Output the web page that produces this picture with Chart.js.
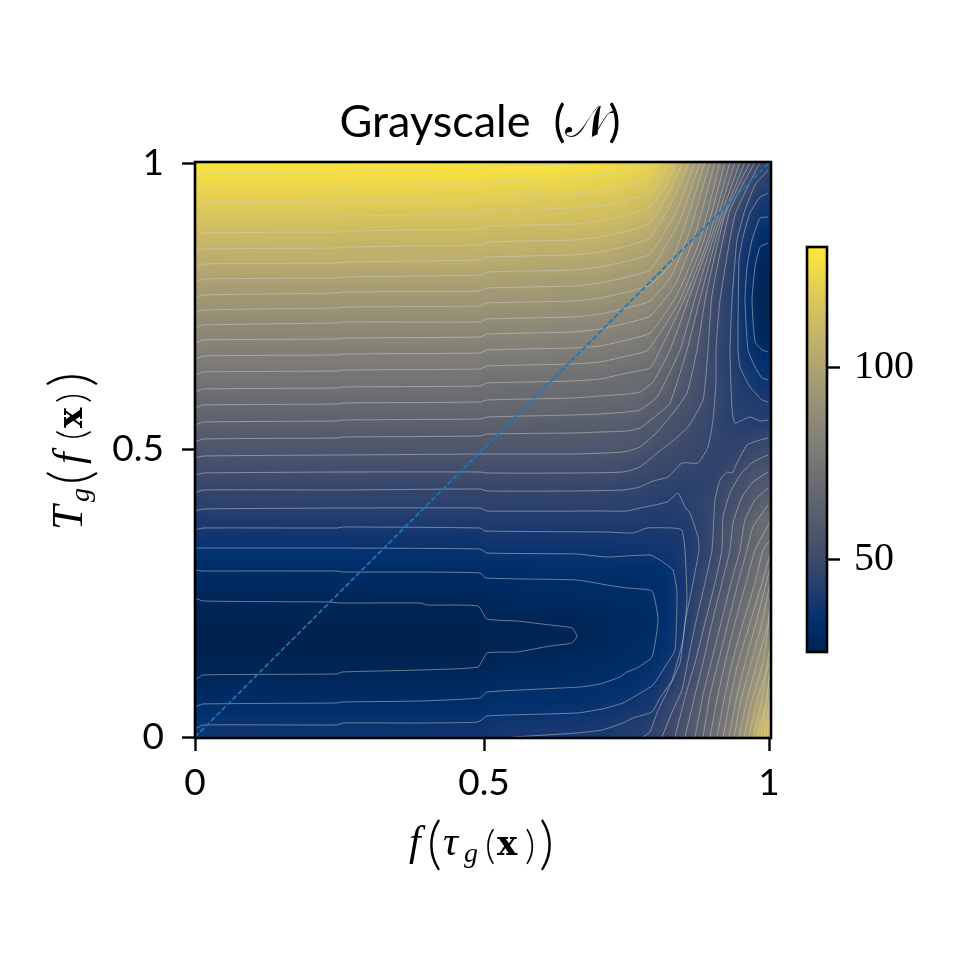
<!DOCTYPE html>
<html>
<head>
<meta charset="utf-8">
<title>Grayscale</title>
<script src="https://cdn.jsdelivr.net/npm/chart.js@4/dist/chart.umd.min.js"></script>
<style>
    html, body { margin: 0; padding: 0; background: #fff; }
    canvas { position: absolute; left: 0; top: 0; }
</style>
</head>
<body>
<canvas id="heat" width="960" height="960"></canvas>
<canvas id="colorbar" width="960" height="960"></canvas>
<script>
// axes are in histogram bins, labelled 0 / 0.5 / 1
const xTickValues = [0, 289, 574];
const yTickValues = [0, 288, 574];
const tickLabels = ['0', '0.5', '1'];
const colorbarTicks = [50, 100];
const colorMin = 26;
const colorMax = 131.5;

const gridColumns = [8, 24, 40, 56, 72, 88, 104, 120, 136, 152, 168, 184, 200, 216, 232, 248, 264, 280,
    296, 312, 328, 344, 360, 376, 392, 408, 424, 440, 456, 472, 488, 504, 520, 536, 552, 568];
const gridRowPositions = [568, 552, 536, 520, 504, 488, 472, 456, 440, 424, 408, 392, 376, 360, 344, 328, 312, 296,
    280, 264, 248, 232, 216, 200, 184, 168, 152, 136, 120, 104, 88, 72, 56, 40, 24, 8];

// values, one row per line, top to bottom
const gridValues = [
    [129,129,129,129,129,129,129,129,129,129,129,129,129,129,129,129,129,129, 128,128,128,128,128,127,127,126,125,124,122,116,106,95,82,69,56,47],
    [125,125,125,125,125,125,125,125,125,125,125,125,125,125,125,125,125,125, 124,124,124,123,123,123,122,122,121,119,117,112,102,91,79,65,52,44],
    [120,120,120,120,120,120,120,120,120,120,120,120,120,120,120,120,120,120, 119,119,119,118,118,118,117,117,116,114,113,106,98,88,76,59,47,40],
    [116,116,116,116,116,116,116,116,116,116,116,116,116,116,116,116,116,116, 115,115,115,115,114,114,114,113,112,111,109,102,95,85,72,52,43,37],
    [112,112,112,112,112,112,112,112,112,112,112,112,112,112,112,112,112,112, 111,111,111,111,110,110,110,109,108,106,104,98,92,82,64,49,40,34],
    [108,108,108,108,108,108,108,108,108,108,108,108,108,108,108,108,108,108, 107,107,107,106,106,106,106,105,103,102,100,95,88,77,58,47,38,31],
    [104,104,104,104,104,104,104,104,104,104,104,104,104,104,104,104,104,104, 103,103,103,102,102,102,101,101,99,98,96,93,84,71,54,46,36,29],
    [99,99,99,99,99,99,99,99,99,99,99,99,99,99,99,99,99,99, 98,98,98,98,97,97,97,96,95,94,92,88,80,65,52,45,36,28],
    [95,95,95,95,95,95,95,95,95,95,95,95,95,95,95,95,95,95, 94,94,94,94,93,93,93,92,91,90,88,84,75,61,51,44,35,28],
    [91,91,91,91,91,91,91,91,91,91,91,91,91,91,91,91,91,91, 90,90,90,90,89,89,89,88,87,86,84,79,68,58,50,44,35,28],
    [87,87,87,87,87,87,87,87,87,87,87,87,87,87,87,87,87,87, 86,86,86,86,85,85,85,84,83,82,80,73,66,57,49,44,36,29],
    [83,83,83,83,83,83,83,83,83,83,83,83,83,83,83,83,83,83, 82,82,82,82,81,81,81,80,79,78,76,70,64,56,48,44,36,30],
    [79,79,79,79,79,79,79,79,79,79,79,79,79,79,79,79,79,79, 78,78,78,78,77,77,77,76,75,74,73,68,60,54,48,43,38,34],
    [75,75,75,75,75,75,75,75,75,75,75,75,75,75,75,75,75,75, 74,74,74,74,73,73,73,72,71,70,69,64,58,54,48,44,40,36],
    [71,71,71,71,71,71,71,71,71,71,71,71,71,71,71,71,71,71, 71,70,70,70,70,70,70,69,69,68,66,62,57,53,48,44,41,39],
    [67,67,67,67,67,67,67,67,67,67,67,67,67,67,67,67,67,67, 67,67,67,67,67,66,66,66,65,65,62,59,55,52,48,44,43,42],
    [63,63,63,63,63,63,63,63,63,63,63,63,63,63,63,63,63,63, 63,63,63,62,62,62,62,62,61,60,59,55,53,50,47,44,43,43],
    [59,59,59,59,59,59,59,59,59,59,59,59,59,59,59,59,59,59, 59,59,59,59,59,58,58,58,58,57,56,53,51,49,47,46,46,48],
    [56,56,56,56,56,56,56,56,56,56,56,56,56,56,56,56,56,56, 56,56,56,56,56,56,56,55,55,54,52,50,49,48,46,46,49,52],
    [52,52,52,52,52,52,52,52,52,52,52,52,52,52,52,52,52,52, 52,52,52,52,52,52,52,52,51,50,49,48,47,46,46,48,53,56],
    [48,48,48,48,48,48,48,48,48,48,48,48,48,48,48,48,48,48, 48,48,48,48,48,48,48,48,47,47,46,45,44,45,47,52,56,59],
    [45,45,45,45,45,45,45,45,45,45,45,45,45,45,45,45,45,45, 45,45,45,45,45,45,45,45,45,45,44,43,44,46,48,52,57,63],
    [41,41,41,41,41,41,41,41,41,41,41,41,41,41,41,41,41,41, 42,42,42,42,42,42,42,42,42,42,41,41,42,45,48,55,61,70],
    [38,38,38,38,38,38,38,38,38,38,38,38,38,38,38,38,38,38, 39,39,39,39,39,39,39,39,39,39,39,39,40,44,49,57,63,71],
    [35,35,35,35,35,35,35,35,35,35,35,35,35,35,35,35,35,35, 36,36,36,36,36,36,36,36,37,37,37,38,40,44,49,56,64,72],
    [32,32,32,32,32,32,32,32,32,32,32,32,32,32,32,32,32,32, 33,33,33,34,34,34,34,34,34,34,34,35,39,45,51,58,66,74],
    [30,30,30,30,30,30,30,30,30,30,30,30,30,30,30,30,30,30, 31,31,31,31,31,31,32,32,32,32,33,34,38,46,52,60,68,76],
    [28,28,28,28,28,28,28,28,28,28,28,28,28,28,28,28,28,28, 29,29,30,30,30,30,31,31,31,31,32,34,39,47,55,63,71,80],
    [27,27,27,27,27,27,27,27,27,27,27,27,27,27,27,27,27,27, 28,28,28,28,28,28,29,29,30,30,31,34,39,48,57,65,73,84],
    [26,26,26,26,26,26,26,26,26,26,26,26,26,26,26,26,26,26, 27,27,27,27,27,27,28,29,30,30,31,35,40,50,59,67,76,86],
    [26,26,26,26,26,26,26,26,26,26,26,26,26,26,26,26,26,26, 27,27,28,28,28,28,29,29,30,31,32,35,41,52,61,69,79,89],
    [27,27,27,27,27,27,27,27,27,27,27,27,27,27,27,27,27,27, 28,29,29,29,29,30,30,31,31,32,33,37,45,54,62,72,81,92],
    [29,29,29,29,29,29,29,29,29,29,29,29,29,29,29,29,29,29, 30,31,31,31,31,31,32,32,33,34,36,39,47,56,65,73,84,96],
    [31,31,31,31,31,31,31,31,31,31,31,31,31,31,31,31,31,31, 32,33,33,33,33,33,34,35,35,36,38,45,51,58,67,76,88,100],
    [34,34,34,34,34,34,34,34,34,34,34,34,34,34,34,34,34,34, 35,35,35,35,36,36,36,37,38,39,40,47,53,60,66,77,89,106],
    [37,37,37,37,37,37,37,37,37,37,37,37,37,37,37,37,37,37, 38,39,39,39,39,39,40,40,41,42,45,49,55,61,70,81,93,112]
];

// contour lines, x,y pairs in bins
const contourLines = [
    [0,561, 8,564, 142,565, 148,566, 285,568, 292,571, 378,573, 405,575],
    [0,546, 8,549, 142,550, 148,551, 285,553, 292,556, 378,558, 405,562, 432,567, 460,575],
    [0,531, 8,534, 142,535, 148,536, 285,538, 292,541, 378,544, 405,546, 432,552, 455,559, 468,575],
    [0,516, 8,519, 142,520, 148,521, 285,523, 292,526, 378,529, 405,531, 432,537, 455,545, 465,557, 475,575],
    [0,501, 8,504, 142,505, 148,506, 285,508, 292,511, 378,513, 405,516, 432,522, 455,530, 470,550, 482,575],
    [0,485, 8,488, 142,489, 148,490, 285,492, 292,495, 378,497, 405,500, 432,506, 455,514, 475,547, 488,575],
    [0,470, 8,473, 142,474, 148,475, 285,477, 292,480, 378,482, 405,485, 432,491, 455,499, 478,537, 494,575],
    [0,455, 8,458, 142,459, 148,460, 285,462, 292,465, 378,467, 405,470, 432,476, 455,483, 482,527, 500,575],
    [0,439, 8,442, 142,444, 148,445, 285,446, 292,449, 378,451, 405,454, 432,460, 455,467, 485,517, 505,575],
    [0,424, 8,427, 142,429, 148,430, 285,431, 292,434, 378,436, 405,439, 432,445, 455,452, 475,472, 490,512, 510,575],
    [0,409, 8,412, 142,414, 148,415, 285,415, 292,418, 378,420, 405,423, 432,429, 455,436, 477,462, 495,507, 515,575],
    [0,393, 8,397, 142,398, 148,399, 285,400, 292,403, 378,405, 405,408, 432,414, 455,421, 480,452, 500,502, 520,575],
    [0,377, 8,381, 142,382, 148,383, 285,384, 292,387, 378,389, 405,391, 432,397, 455,404, 482,442, 505,497, 525,575],
    [0,362, 8,365, 142,366, 148,367, 285,368, 292,371, 378,373, 405,375, 432,381, 453,387, 485,437, 509,497, 530,575],
    [0,345, 8,348, 142,349, 148,350, 285,351, 292,354, 378,356, 405,358, 432,364, 455,369, 465,387, 489,437, 513,497, 535,575],
    [0,329, 8,332, 142,333, 148,334, 285,335, 292,337, 378,339, 405,341, 432,343, 445,345, 458,355, 475,387, 495,442, 517,502, 540,575],
    [0,312, 8,315, 142,316, 148,317, 285,318, 292,320, 378,322, 405,323, 432,325, 445,327, 462,340, 485,387, 501,442, 521,507, 545,575],
    [0,295, 8,298, 142,299, 148,300, 285,301, 292,303, 378,304, 405,305, 432,306, 445,309, 462,322, 475,334, 492,387, 506,442, 525,512, 550,575],
    [0,279, 8,281, 142,282, 148,282, 285,283, 292,283, 378,283, 428,285, 445,290, 462,305, 478,324, 492,344, 502,387, 511,442, 530,522, 555,575],
    [0,262, 8,264, 142,265, 148,265, 285,265, 292,264, 378,264, 428,265, 445,270, 462,284, 475,294, 493,310, 508,337, 513,387, 517,442, 535,527, 560,575],
    [0,244, 8,247, 142,247, 148,247, 285,248, 292,246, 378,246, 428,247, 445,250, 458,256, 473,260, 487,274, 503,274, 513,290, 518,317, 521,354, 521,387, 525,437, 540,522, 565,575],
    [573,299, 565,297, 552,292, 542,274, 537,264, 532,265, 525,257, 520,237, 517,187, 510,154, 502,120, 495,87, 487,47, 478,27, 467,0],
    [0,226, 8,228, 142,229, 148,229, 285,229, 292,226, 405,226, 432,226, 445,229, 472,235, 483,244, 490,230, 495,224, 503,200, 504,187, 498,154, 490,114, 485,74, 473,47, 462,24, 455,5, 448,0],
    [0,207, 8,209, 142,209, 148,210, 285,209, 290,206, 412,205, 438,204, 452,209, 478,209, 487,207, 490,187, 492,137, 488,97, 477,57, 465,39, 457,25, 438,19, 428,14, 407,7, 382,4, 318,0],
    [0,189, 8,189, 142,189, 148,189, 285,188, 292,184, 382,183, 412,180, 455,182, 465,177, 478,167, 482,144, 480,87, 470,70, 458,52, 442,42, 428,34, 407,28, 382,24, 292,21, 283,15, 225,14, 148,14, 142,12, 8,12, 0,8],
    [0,167, 8,166, 142,166, 148,165, 225,165, 285,164, 291,159, 382,157, 412,152, 432,149, 457,146, 463,117, 457,80, 442,69, 432,65, 425,60, 405,53, 385,50, 292,45, 285,39, 225,36, 147,35, 142,34, 8,33, 0,30],
    [0,139, 8,136, 135,135, 145,134, 225,134, 232,132, 283,131, 292,118, 322,116, 355,112, 377,109, 382,101, 377,94, 355,91, 322,85, 292,84, 283,70, 225,67, 147,65, 142,63, 8,62, 0,57],
    [573,282, 558,275, 545,262, 535,244, 528,220, 527,187, 520,154, 510,114, 500,74, 492,47, 485,20, 480,0],
    [573,265, 558,255, 547,240, 538,214, 535,187, 527,154, 517,114, 508,74, 500,42, 490,0],
    [573,249, 560,237, 550,217, 545,187, 536,154, 526,114, 516,74, 508,42, 500,0],
    [573,232, 558,210, 552,187, 543,154, 533,114, 523,74, 515,42, 508,0],
    [575,215, 560,187, 551,154, 540,114, 530,74, 522,37, 515,0],
    [575,197, 568,187, 560,154, 548,114, 537,74, 529,37, 522,0],
    [575,182, 567,154, 555,114, 543,74, 535,37, 528,0],
    [575,169, 561,114, 550,74, 541,37, 534,0],
    [575,154, 567,114, 556,74, 546,37, 539,0],
    [575,139, 573,114, 562,74, 552,37, 544,0],
    [575,124, 568,74, 557,37, 549,0],
    [575,107, 574,74, 562,37, 554,0],
    [575,92, 567,37, 558,0],
    [575,77, 572,37, 562,0],
    [575,64, 570,27, 566,0],
    [575,50, 573,27, 569,0],
    [575,37, 572,0],
    [575,24, 574,0],
    [573,317, 565,316, 555,320, 540,314, 537,327, 535,387, 537,437, 542,497, 550,527, 560,552, 573,567],
    [573,335, 567,337, 555,350, 545,370, 543,387, 544,477, 548,500, 555,524, 565,540, 573,544],
    [573,357, 567,359, 560,370, 553,387, 550,437, 552,470, 557,497, 565,519, 573,520],
    [573,385, 567,387, 560,395, 557,437, 560,470, 565,490, 573,494]
];
const diagonalX = [0, 575];
const diagonalY = [0, 575];

// cividis
const colorStops = [
    [0, '#00224e'], [0.04, '#002a62'], [0.08, '#00316f'], [0.111, '#123570'], [0.222, '#3b496c'],
    [0.333, '#575d6d'], [0.444, '#707173'], [0.556, '#8a8678'], [0.667, '#a59c74'],
    [0.778, '#c3b369'], [0.889, '#e1cc55'], [1, '#fee838']
];

function hexToRgb(hex) {
    return [1, 3, 5].map(i => parseInt(hex.slice(i, i + 2), 16));
}

function colorFor(value) {
    const t = Math.min(1, Math.max(0, (value - colorMin) / (colorMax - colorMin)));
    for (let i = 1; i < colorStops.length; i++) {
        if (t <= colorStops[i][0]) {
            const a = colorStops[i - 1];
            const b = colorStops[i];
            const k = (t - a[0]) / (b[0] - a[0]);
            const ca = hexToRgb(a[1]);
            const cb = hexToRgb(b[1]);
            return 'rgb(' + ca.map((c, n) => Math.round(c + (cb[n] - c) * k)).join(',') + ')';
        }
    }
    return colorStops[colorStops.length - 1][1];
}

function pairs(flat) {
    const points = [];
    for (let i = 0; i < flat.length; i += 2) {
        points.push({ x: flat[i], y: flat[i + 1] });
    }
    return points;
}

const gridPoints = [];
const gridColors = [];
gridValues.forEach((row, r) => {
    row.forEach((value, c) => {
        gridPoints.push({ x: gridColumns[c], y: gridRowPositions[r] });
        gridColors.push(colorFor(value));
    });
});

const mathFont = '"Liberation Serif"';
const bigParen = '300 58px Lato';
const smallParen = '300 40px Lato';
const xLabelPieces = [
    { text: 'f', font: 'italic 42px ' + mathFont, dx: 8, dy: 0 },
    { text: '(', font: bigParen, dx: 26, dy: 8 },
    { text: 'τ', font: 'italic 42px ' + mathFont, dx: 42, dy: 0 },
    { text: 'g', font: 'italic 28px ' + mathFont, dx: 63, dy: 7 },
    { text: '(', font: smallParen, dx: 84, dy: 4 },
    { text: 'x', font: 'bold 34px "DejaVu Serif"', dx: 96, dy: 0 },
    { text: ')', font: smallParen, dx: 124, dy: 4 },
    { text: ')', font: bigParen, dx: 138, dy: 8 }
];
const yLabelPieces = [
    { text: 'T', font: 'italic 44px ' + mathFont, dx: 0, dy: 0 },
    { text: 'g', font: 'italic 28px ' + mathFont, dx: 28, dy: 7 },
    { text: '(', font: bigParen, dx: 45, dy: 8 },
    { text: 'f', font: 'italic 42px ' + mathFont, dx: 66, dy: 0 },
    { text: '(', font: smallParen, dx: 90, dy: 4 },
    { text: 'x', font: 'bold 34px "DejaVu Serif"', dx: 102, dy: 0 },
    { text: ')', font: smallParen, dx: 127, dy: 4 },
    { text: ')', font: bigParen, dx: 143, dy: 8 }
];

function drawPieces(ctx, x, y, rotation, pieces) {
    ctx.save();
    ctx.translate(x, y);
    ctx.rotate(rotation);
    ctx.fillStyle = '#000';
    ctx.textAlign = 'left';
    ctx.textBaseline = 'alphabetic';
    pieces.forEach(p => {
        ctx.font = p.font;
        ctx.fillText(p.text, p.dx, p.dy);
    });
    ctx.restore();
}

// smooths the cells like imshow does, only inside the axes
const smoothCells = {
    id: 'smoothCells',
    afterDatasetDraw(chart, args) {
        if (args.index !== 0) return;
        const a = chart.chartArea;
        const w = a.right - a.left;
        const h = a.bottom - a.top;
        const ctx = chart.ctx;
        ctx.save();
        ctx.beginPath();
        ctx.rect(a.left, a.top, w, h);
        ctx.clip();
        ctx.filter = 'blur(6px)';
        ctx.drawImage(chart.canvas, a.left, a.top, w, h, a.left, a.top, w, h);
        ctx.restore();
    }
};

const frame = {
    id: 'frame',
    afterDatasetsDraw(chart) {
        const a = chart.chartArea;
        const ctx = chart.ctx;
        ctx.save();
        ctx.strokeStyle = '#000';
        ctx.lineWidth = 2.6;
        ctx.strokeRect(a.left, a.top, a.right - a.left, a.bottom - a.top);
        ctx.restore();
    }
};

const axisLabels = {
    id: 'axisLabels',
    afterDraw(chart) {
        drawPieces(chart.ctx, 401, 855, 0, xLabelPieces);
        drawPieces(chart.ctx, 82, 530, -Math.PI / 2, yLabelPieces);
    }
};

const datasets = [{
    label: 'cells',
    data: gridPoints,
    pointStyle: 'rect',
    pointRadius: 12.5,
    pointBorderWidth: 0,
    pointBackgroundColor: gridColors,
    showLine: false,
    order: 3
}];

contourLines.forEach(line => {
    datasets.push({
        data: pairs(line),
        showLine: true,
        pointRadius: 0,
        borderColor: 'rgba(205,205,205,0.5)',
        borderWidth: 1,
        tension: 0.15,
        order: 2
    });
});

datasets.push({
    label: 'diagonal',
    data: diagonalX.map((x, i) => ({ x: x, y: diagonalY[i] })),
    showLine: true,
    pointRadius: 0,
    borderColor: '#1f77b4',
    borderWidth: 1.7,
    borderDash: [5.3, 2.3],
    order: 1
});

const tickFont = { family: 'Lato', size: 37 };

new Chart(document.getElementById('heat').getContext('2d'), {
    type: 'scatter',
    data: { datasets: datasets },
    options: {
        responsive: false,
        animation: false,
        plugins: {
            legend: { display: false },
            tooltip: { enabled: false },
            title: {
                display: true,
                text: 'Grayscale  (𝒩)',
                color: '#000',
                font: { family: 'Lato', size: 45, weight: 'normal', lineHeight: 1.2 },
                padding: { top: 95, bottom: 13 }
            }
        },
        scales: {
            x: {
                type: 'linear',
                min: 0,
                max: 576,
                afterBuildTicks(scale) { scale.ticks = xTickValues.map(v => ({ value: v })); },
                afterFit(scale) { scale.height = 222; },
                grid: { drawOnChartArea: false, drawTicks: true, tickLength: 13, tickWidth: 2.4, tickColor: '#000' },
                border: { display: false },
                ticks: {
                    color: '#000',
                    font: tickFont,
                    padding: 10,
                    maxRotation: 0,
                    autoSkip: false,
                    callback: (value, index) => tickLabels[index]
                }
            },
            y: {
                type: 'linear',
                min: -1,
                max: 575,
                afterBuildTicks(scale) { scale.ticks = yTickValues.map(v => ({ value: v })); },
                afterFit(scale) { scale.width = 195; },
                grid: { drawOnChartArea: false, drawTicks: true, tickLength: 13, tickWidth: 2.4, tickColor: '#000' },
                border: { display: false },
                ticks: {
                    color: '#000',
                    font: tickFont,
                    padding: 18,
                    autoSkip: false,
                    callback: (value, index) => tickLabels[index]
                }
            },
            // empty axis, keeps the room for the colorbar so the title stays centred on the page
            spacer: {
                type: 'linear',
                position: 'right',
                grid: { display: false },
                border: { display: false },
                ticks: { display: false },
                afterFit(scale) { scale.width = 189; }
            }
        }
    },
    plugins: [smoothCells, frame, axisLabels]
});

new Chart(document.getElementById('colorbar').getContext('2d'), {
    type: 'bar',
    data: {
        labels: ['color'],
        datasets: [{
            data: [[colorMin, colorMax]],
            barPercentage: 1,
            categoryPercentage: 1,
            backgroundColor(context) {
                const a = context.chart.chartArea;
                if (!a) return colorStops[0][1];
                const gradient = context.chart.ctx.createLinearGradient(0, a.bottom, 0, a.top);
                colorStops.forEach(s => gradient.addColorStop(s[0], s[1]));
                return gradient;
            }
        }]
    },
    options: {
        responsive: false,
        animation: false,
        layout: { padding: { left: 807, right: 0, top: 247, bottom: 308 } },
        plugins: { legend: { display: false }, tooltip: { enabled: false } },
        scales: {
            x: { display: false },
            y: {
                position: 'right',
                min: colorMin,
                max: colorMax,
                afterBuildTicks(scale) { scale.ticks = colorbarTicks.map(v => ({ value: v })); },
                afterFit(scale) { scale.width = 133; },
                grid: { drawOnChartArea: false, drawTicks: true, tickLength: 13, tickWidth: 2.4, tickColor: '#000' },
                border: { display: false },
                ticks: {
                    color: '#000',
                    font: { family: 'Liberation Serif', size: 40 },
                    padding: 14,
                    autoSkip: false
                }
            }
        }
    },
    plugins: [frame]
});
</script>
</body>
</html>
